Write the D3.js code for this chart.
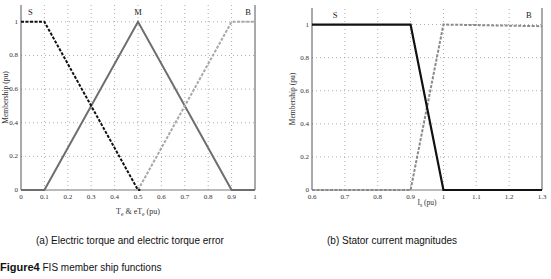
<!DOCTYPE html>
<html>
<head>
<script src="https://d3js.org/d3.v7.min.js"></script>
<style>
  body { margin: 0; background: #fff; }
  svg text { font-family: "Liberation Serif", serif; }
  .cap { font-family: "Liberation Sans", Arial, sans-serif; }
</style>
</head>
<body>
<svg id="fig" width="551" height="279"></svg>
<script>
// (a) torque membership functions
const xTicksA = [0, 0.1, 0.2, 0.3, 0.4, 0.5, 0.6, 0.7, 0.8, 0.9, 1];
const sA = [[0, 1], [0.1, 1], [0.5, 0], [0.51, 0]];
const mA = [[0, 0], [0.1, 0], [0.5, 1], [0.9, 0], [1, 0]];
const bA = [[0.5, 0], [0.9, 1], [1, 1]];
const labelsA = [["S", 0.04], ["M", 0.5], ["B", 0.97]];

// (b) stator current membership functions
const xTicksB = [0.6, 0.7, 0.8, 0.9, 1, 1.1, 1.2, 1.3];
const sB = [[0.6, 1], [0.9, 1], [1.0, 0], [1.3, 0]];
const bB = [[0.6, 0], [0.9, 0], [1.0, 1], [1.3, 0.99]];
const labelsB = [["S", 0.67], ["B", 1.26]];

const yTicks = [0, 0.2, 0.4, 0.6, 0.8, 1];

const svg = d3.select("#fig");

function panel(opt) {
  const x = d3.scaleLinear().domain(opt.xdom).range([opt.x0, opt.x1]);
  const y = d3.scaleLinear().domain([0, 1.1]).range([190, opt.top]);
  const g = svg.append("g");

  // grid
  g.selectAll(".gx").data(opt.xticks.slice(1, -1)).enter().append("line")
    .attr("x1", d => x(d)).attr("x2", d => x(d))
    .attr("y1", y(0)).attr("y2", opt.top)
    .attr("stroke", "#999").attr("stroke-width", 0.8).attr("stroke-dasharray", "1,3");
  g.selectAll(".gy").data(yTicks.slice(1)).enter().append("line")
    .attr("x1", opt.x0).attr("x2", opt.x1)
    .attr("y1", d => y(d)).attr("y2", d => y(d))
    .attr("stroke", "#999").attr("stroke-width", 0.8).attr("stroke-dasharray", "1,3");

  // axis lines
  g.append("line").attr("x1", opt.x0).attr("x2", opt.x0).attr("y1", opt.top).attr("y2", y(0))
    .attr("stroke", "#555").attr("stroke-width", 1);
  g.append("line").attr("x1", opt.x1).attr("x2", opt.x1).attr("y1", opt.top).attr("y2", y(0))
    .attr("stroke", "#555").attr("stroke-width", 1);
  g.append("line").attr("x1", opt.x0).attr("x2", opt.x1).attr("y1", y(0)).attr("y2", y(0))
    .attr("stroke", "#777").attr("stroke-width", 1);

  // tick labels
  g.selectAll(".tx").data(opt.xticks).enter().append("text")
    .attr("x", d => x(d)).attr("y", opt.tickY)
    .attr("text-anchor", "middle").attr("font-size", 7).attr("fill", "#333")
    .text(d => d);
  g.selectAll(".ty").data(yTicks).enter().append("text")
    .attr("x", opt.x0 - 3).attr("y", d => y(d) + 2)
    .attr("text-anchor", "end").attr("font-size", 7).attr("fill", "#333")
    .text(d => d);

  // curves
  const line = d3.line().x(d => x(d[0])).y(d => y(d[1]));
  opt.series.forEach(s => {
    g.append("path").attr("d", line(s.data)).attr("fill", "none")
      .attr("stroke", s.color).attr("stroke-width", s.w)
      .attr("stroke-dasharray", s.dash || null);
  });

  // set labels
  g.selectAll(".lb").data(opt.labels).enter().append("text")
    .attr("x", d => x(d[1])).attr("y", opt.top + 10)
    .attr("text-anchor", "middle").attr("font-size", 8.5).attr("fill", "#222")
    .text(d => d[0]);

  // y title
  g.append("text")
    .attr("transform", `translate(${opt.yTitleX},${(y(0) + opt.top) / 2}) rotate(-90)`)
    .attr("text-anchor", "middle").attr("font-size", 7.5).attr("fill", "#333")
    .text("Membership (pu)");
  return { x, y, g };
}

const a = panel({
  xdom: [0, 1], x0: 21, x1: 255, top: 5, xticks: xTicksA, tickY: 199, yTitleX: 8,
  labels: labelsA,
  series: [
    { data: mA, color: "#6e6e6e", w: 2 },
    { data: bA, color: "#a8a8a8", w: 2, dash: "3,1.5" },
    { data: sA, color: "#111", w: 2, dash: "3,1.5" }
  ]
});
const xa = a.g.append("text").attr("x", 138).attr("y", 214)
  .attr("text-anchor", "middle").attr("font-size", 8).attr("fill", "#333");
xa.append("tspan").text("T");
xa.append("tspan").attr("font-size", 5.5).attr("dy", 2).text("e");
xa.append("tspan").attr("dy", -2).text(" & eT");
xa.append("tspan").attr("font-size", 5.5).attr("dy", 2).text("e");
xa.append("tspan").attr("dy", -2).text(" (pu)");

const b = panel({
  xdom: [0.6, 1.3], x0: 312, x1: 542, top: 8, xticks: xTicksB, tickY: 199, yTitleX: 295,
  labels: labelsB,
  series: [
    { data: bB, color: "#8a8a8a", w: 2, dash: "3,1.5" },
    { data: sB, color: "#111", w: 2.2 }
  ]
});
const xb = b.g.append("text").attr("x", 427).attr("y", 205)
  .attr("text-anchor", "middle").attr("font-size", 7.5).attr("fill", "#333");
xb.append("tspan").text("I");
xb.append("tspan").attr("font-size", 5.5).attr("dy", 2).text("s");
xb.append("tspan").attr("dy", -2).text(" (pu)");

// captions
svg.append("text").attr("class", "cap").attr("x", 36).attr("y", 244)
  .attr("font-size", 10).attr("fill", "#111").text("(a) Electric torque and electric torque error");
svg.append("text").attr("class", "cap").attr("x", 327).attr("y", 244)
  .attr("font-size", 10).attr("fill", "#111").text("(b) Stator current magnitudes");
const fig = svg.append("text").attr("class", "cap").attr("x", 0).attr("y", 271)
  .attr("font-size", 10).attr("fill", "#111");
fig.append("tspan").attr("font-weight", "bold").attr("font-size", 11).text("Figure4");
fig.append("tspan").text(" FIS member ship functions");
</script>
</body>
</html>
